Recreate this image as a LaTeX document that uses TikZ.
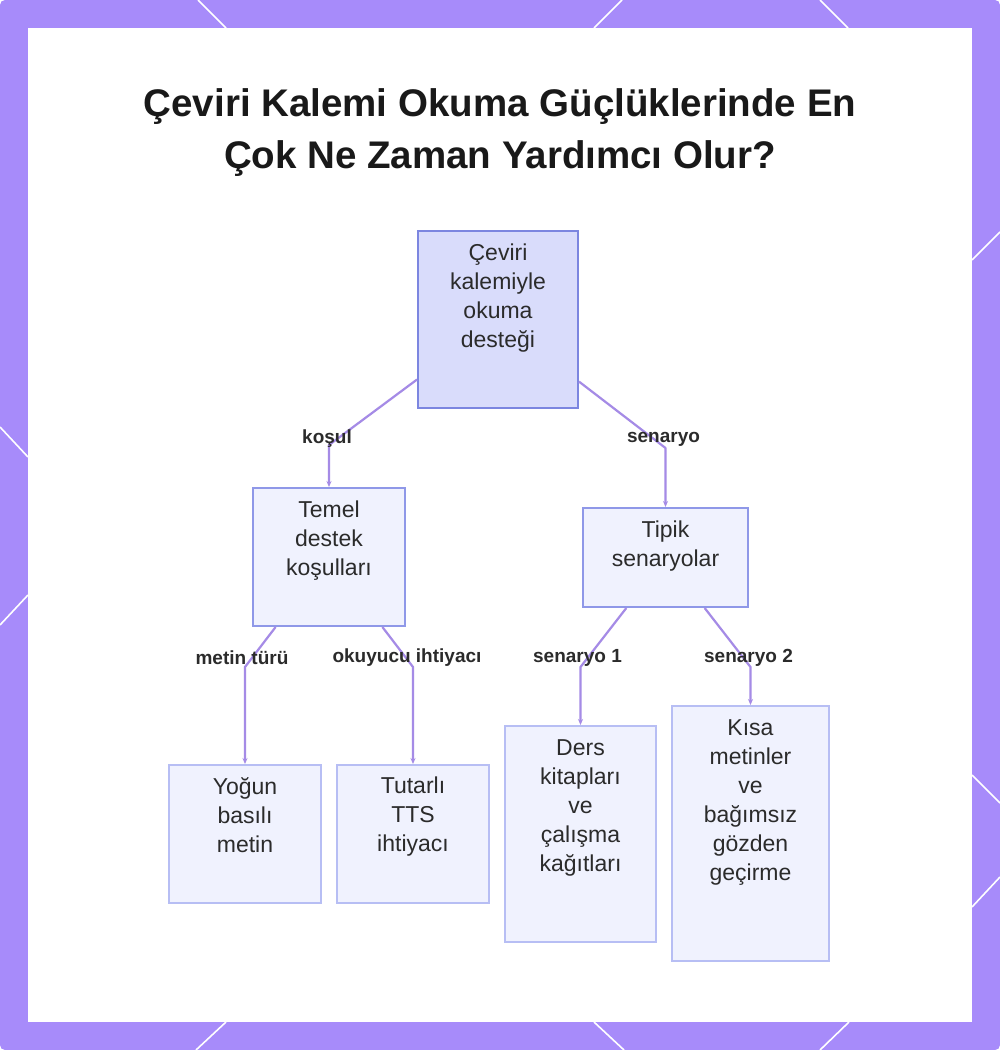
\documentclass[tikz,border=0pt]{standalone}
\usepackage{fontspec}
\setmainfont{Liberation Sans}
\usetikzlibrary{positioning,arrows.meta}

\definecolor{framecol}{HTML}{A78BFA}
\definecolor{rootfill}{HTML}{D9DCFB}
\definecolor{rootdraw}{HTML}{7C86E0}
\definecolor{midfill}{HTML}{F0F2FE}
\definecolor{middraw}{HTML}{8F98E8}
\definecolor{leafdraw}{HTML}{B7BEF4}
\definecolor{linkcol}{HTML}{A58BE6}
\definecolor{ink}{HTML}{2B2B2B}

\tikzset{
  box/.style={draw=middraw, fill=midfill, line width=2pt, inner sep=0pt},
  rootbox/.style={box, draw=rootdraw, fill=rootfill},
  leafbox/.style={box, draw=leafdraw},
  boxtext/.style={inner sep=0pt, align=center, text=ink,
    font=\fontsize{23}{29}\selectfont},
  edgelbl/.style={inner sep=0pt, text=ink, font=\fontsize{19}{22}\selectfont\bfseries},
  link/.style={draw=linkcol, line width=2.2pt, line join=round,
    -{Stealth[length=6pt,width=5pt]}},
}

\begin{document}
\begin{tikzpicture}[x=1pt,y=-1pt]
\useasboundingbox (0,0) rectangle (1000,1050);
% frame
\fill[framecol, rounded corners=5pt] (0,0) rectangle (1000,1050);
\begin{scope}[white, line width=1.6pt]
  \draw (198,0) -- (226,28);  \draw (622,0) -- (594,28);  \draw (820,0) -- (848,28);
  \draw (196,1050) -- (226,1022); \draw (624,1050) -- (594,1022); \draw (820,1050) -- (849,1022);
  \draw (0,427) -- (28,457);  \draw (0,625) -- (28,595);
  \draw (1000,232) -- (972,260); \draw (1000,803) -- (972,775); \draw (1000,877) -- (972,907);
\end{scope}
\fill[white] (28,28) rectangle (972,1022);

% title
\node[align=center, text=black!90, font=\fontsize{38.5}{52}\selectfont\bfseries] (title) at (500,133)
  {Çeviri Kalemi Okuma Güçlüklerinde En\\Çok Ne Zaman Yardımcı Olur?};

% boxes
\node[rootbox, minimum width=160pt, minimum height=177pt] (root) at (498,319.5) {};
\node[box, minimum width=152pt, minimum height=138pt] (temel) at (329,557) {};
\node[box, minimum width=165pt, minimum height=99pt] (tipik) at (665.5,557.5) {};
\node[leafbox, minimum width=152pt, minimum height=138pt] (yogun) at (245,834) {};
\node[leafbox, minimum width=152pt, minimum height=138pt] (tutarli) at (413,834) {};
\node[leafbox, minimum width=151pt, minimum height=216pt] (ders) at (580.5,834) {};
\node[leafbox, minimum width=157pt, minimum height=255pt] (kisa) at (750.5,833.5) {};

\node[boxtext, below=14pt of root.north] (roottxt) {Çeviri\\kalemiyle\\okuma\\desteği};
\node[boxtext, below=14pt of temel.north] (temeltxt) {Temel\\destek\\koşulları};
\node[boxtext, below=14pt of tipik.north] (tipiktxt) {Tipik\\senaryolar};
\node[boxtext, below=13pt of yogun.north] (yoguntxt) {Yoğun\\basılı\\metin};
\node[boxtext, below=13pt of tutarli.north] (tutarlitxt) {Tutarlı\\TTS\\ihtiyacı};
\node[boxtext, below=14pt of ders.north] (derstxt) {Ders\\kitapları\\ve\\çalışma\\kağıtları};
\node[boxtext, below=14pt of kisa.north] (kisatxt) {Kısa\\metinler\\ve\\bağımsız\\gözden\\geçirme};

% bends
\coordinate (kb) at (329,445);
\coordinate (sb) at (665.5,448);
\coordinate (mb) at (245,667);
\coordinate (ob) at (413,667);
\coordinate (s1) at (580.5,667);
\coordinate (s2) at (750.5,667);

% connectors
\draw[link] (root) -- (kb) -- (temel);
\draw[link] (root) -- (sb) -- (tipik);
\draw[link] (temel) -- (mb) -- (yogun);
\draw[link] (temel) -- (ob) -- (tutarli);
\draw[link] (tipik) -- (s1) -- (ders);
\draw[link] (tipik) -- (s2) -- (kisa);

% edge labels
\node[edgelbl] (lkosul) at ([xshift=-2pt,yshift=6pt]kb) {koşul};
\node[edgelbl] (lsenaryo) at ([xshift=-2pt,yshift=9pt]sb) {senaryo};
\node[edgelbl] (lmetin) at ([xshift=-3pt,yshift=9pt]mb) {metin türü};
\node[edgelbl] (lokuyucu) at ([xshift=-6pt,yshift=9pt]ob) {okuyucu ihtiyacı};
\node[edgelbl] (lsen1) at ([xshift=-3pt,yshift=9pt]s1) {senaryo 1};
\node[edgelbl] (lsen2) at ([xshift=-2pt,yshift=9pt]s2) {senaryo 2};
\end{tikzpicture}
\end{document}
